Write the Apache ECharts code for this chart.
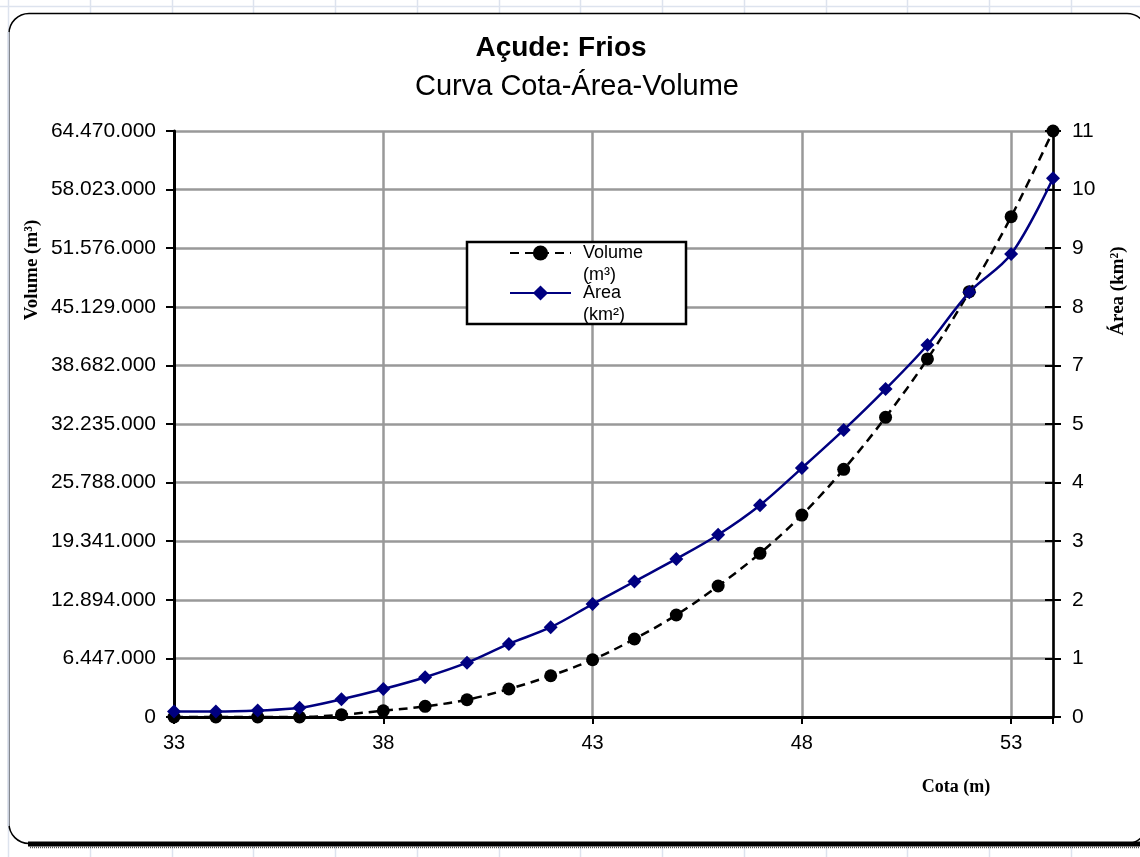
<!DOCTYPE html>
<html>
<head>
<meta charset="utf-8">
<title>Açude: Frios — Curva Cota-Área-Volume</title>
<script src="https://cdn.jsdelivr.net/npm/echarts@6/dist/echarts.min.js"></script>
<style>
  html, body { margin: 0; padding: 0; background: #ffffff; }
  #chart { width: 1140px; height: 857px; }
</style>
</head>
<body>
<div id="chart"></div>
<script>
// Cota (m)
const cota = [33, 34, 35, 36, 37, 38, 39, 40, 41, 42, 43, 44, 45, 46, 47, 48, 49, 50, 51, 52, 53, 54];
// Volume acumulado (m³)
const volume = [0, 0, 0, 0, 250000, 690000, 1170000, 1900000, 3080000, 4540000, 6300000,
  8580000, 11220000, 14410000, 18010000, 22220000, 27250000, 32970000, 39390000,
  46790000, 55040000, 64470000];
// Área do espelho d'água (km²)
const area = [0.10, 0.10, 0.12, 0.17, 0.33, 0.52, 0.74, 1.01, 1.36, 1.67, 2.10,
  2.52, 2.94, 3.39, 3.94, 4.63, 5.34, 6.10, 6.92, 7.90, 8.61, 10.02];

// Axis ranges: both value axes share the same ten divisions
const cotaMin = 33, cotaMax = 54, cotaStep = 5;
const volMax = 64470000, volStep = 6447000;
const areaMax = 10.9, areaStep = 1.09;

const SANS = 'Arial, "Liberation Sans", sans-serif';
const SERIF = '"Times New Roman", "Liberation Serif", serif';
const GRID_GRAY = '#999999';

function pairs(xs, ys) { return xs.map((x, i) => [x, ys[i]]); }
function dotted(v) {
  return String(Math.round(v)).replace(/\B(?=(\d{3})+(?!\d))/g, '.');
}

// Spreadsheet cell lines behind the chart frame
const sheetLines = [];
for (let x = 8; x < 1140; x += 81.75) {
  sheetLines.push({ type: 'line', z: -20, silent: true,
    shape: { x1: Math.round(x) + 0.5, y1: 0, x2: Math.round(x) + 0.5, y2: 857 },
    style: { stroke: '#dde3ee', lineWidth: 1.5 } });
}
sheetLines.push({ type: 'line', z: -20, silent: true,
  shape: { x1: 0, y1: 6.5, x2: 1140, y2: 6.5 }, style: { stroke: '#dde3ee', lineWidth: 1.5 } });

const chart = echarts.init(document.getElementById('chart'), null, { renderer: 'canvas' });

// Legend entries: icon sits on the first text line, unit goes on the second
const legendText = { fontFamily: SANS, fontSize: 18, color: '#000', lineHeight: 22, padding: [0, 0, 0, 7] };

chart.setOption({
  backgroundColor: '#ffffff',
  animation: false,
  grid: { left: 174, right: 87, top: 131, bottom: 140, containLabel: false },
  graphic: sheetLines.concat([
    // chart frame
    { type: 'rect', z: -10, silent: true,
      shape: { x: 9, y: 13.5, width: 1138, height: 830, r: 20 },
      style: { fill: '#ffffff', stroke: '#000000', lineWidth: 1.5 } },
    { type: 'line', z: -9, silent: true,
      shape: { x1: 28, y1: 844, x2: 1140, y2: 844 },
      style: { stroke: '#000000', lineWidth: 5 } },
    { type: 'line', z: -9, silent: true,
      shape: { x1: 30, y1: 847.5, x2: 1140, y2: 847.5 },
      style: { stroke: '#555555', lineWidth: 1.5, lineDash: [1, 1] } },
    { type: 'line', z: -9, silent: true,
      shape: { x1: 8.5, y1: 32, x2: 8.5, y2: 826 },
      style: { stroke: '#c9d0de', lineWidth: 2 } },
    // titles
    { type: 'text', z: 10, x: 561, y: 48,
      style: { text: 'Açude: Frios', font: 'bold 28px ' + SANS, fill: '#000',
        textAlign: 'center', textVerticalAlign: 'middle' } },
    { type: 'text', z: 10, x: 577, y: 87,
      style: { text: 'Curva Cota-Área-Volume', font: '29px ' + SANS, fill: '#000',
        textAlign: 'center', textVerticalAlign: 'middle' } },
    // axis names
    { type: 'text', z: 10, x: 32, y: 270, rotation: Math.PI / 2,
      style: { text: 'Volume (m³)', font: 'bold 19px ' + SERIF, fill: '#000',
        textAlign: 'center', textVerticalAlign: 'middle' } },
    { type: 'text', z: 10, x: 1118, y: 291, rotation: Math.PI / 2,
      style: { text: 'Área (km²)', font: 'bold 19px ' + SERIF, fill: '#000',
        textAlign: 'center', textVerticalAlign: 'middle' } },
    { type: 'text', z: 10, x: 956, y: 787,
      style: { text: 'Cota (m)', font: 'bold 18px ' + SERIF, fill: '#000',
        textAlign: 'center', textVerticalAlign: 'middle' } },
    // legend box
    { type: 'rect', z: 5, silent: true,
      shape: { x: 467, y: 242, width: 219, height: 82 },
      style: { fill: '#ffffff', stroke: '#000000', lineWidth: 2.5 } }
  ]),
  legend: [
    {
      data: ['Volume (m³)'], left: 509, top: 220, padding: 0, z: 10,
      itemWidth: 61, itemHeight: 19,
      formatter: () => ' \nVolume\n(m³)',
      textStyle: legendText
    },
    {
      data: ['Área (km²)'], left: 509, top: 260, padding: 0, z: 10,
      itemWidth: 61, itemHeight: 19,
      formatter: () => ' \nÁrea\n(km²)',
      textStyle: legendText
    }
  ],
  xAxis: {
    type: 'value', min: cotaMin, max: cotaMax, interval: cotaStep,
    axisLine: { lineStyle: { color: '#000', width: 3 } },
    axisTick: { show: true, length: 7, lineStyle: { color: '#000', width: 2 } },
    axisLabel: { fontFamily: SANS, fontSize: 20, color: '#000', margin: 16,
      formatter: v => (v === cotaMax ? '' : String(v)) },
    splitLine: { show: true, lineStyle: { color: GRID_GRAY, width: 2.5 } }
  },
  yAxis: [
    {
      type: 'value', position: 'left', min: 0, max: volMax, interval: volStep,
      axisLine: { show: true, lineStyle: { color: '#000', width: 3 } },
      axisTick: { show: true, length: 8, lineStyle: { color: '#000', width: 2 } },
      axisLabel: { fontFamily: SANS, fontSize: 21, color: '#000', margin: 18, formatter: dotted },
      splitLine: { show: true, lineStyle: { color: GRID_GRAY, width: 2.5 } }
    },
    {
      type: 'value', position: 'right', min: 0, max: areaMax, interval: areaStep,
      axisLine: { show: true, lineStyle: { color: '#000', width: 2.5 } },
      axisTick: { show: true, length: 8, lineStyle: { color: '#000', width: 2 } },
      axisLabel: { fontFamily: SANS, fontSize: 21, color: '#000', margin: 19,
        formatter: v => String(Math.round(v)) },
      splitLine: { show: false }
    },
    {
      // inner half of the crossing ticks on the area axis
      type: 'value', position: 'right', min: 0, max: areaMax, interval: areaStep,
      axisLine: { show: false },
      axisTick: { show: true, inside: true, length: 8, lineStyle: { color: '#000', width: 2 } },
      axisLabel: { show: false },
      splitLine: { show: false }
    }
  ],
  series: [
    {
      name: 'Volume (m³)', type: 'line', yAxisIndex: 0,
      data: pairs(cota, volume),
      smooth: 0.35,
      symbol: 'circle', symbolSize: 13,
      itemStyle: { color: '#000000' },
      lineStyle: { color: '#000000', width: 2.5, type: [9, 6] },
      z: 3
    },
    {
      name: 'Área (km²)', type: 'line', yAxisIndex: 1,
      data: pairs(cota, area),
      smooth: 0.35,
      symbol: 'diamond', symbolSize: 14,
      itemStyle: { color: '#000080' },
      lineStyle: { color: '#000080', width: 2.5 },
      z: 4
    }
  ]
});
</script>
</body>
</html>
